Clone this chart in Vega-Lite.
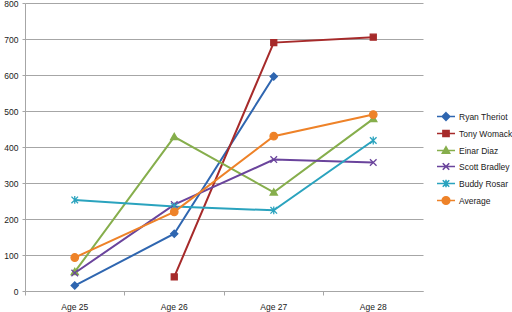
{
  "$schema": "https://vega.github.io/schema/vega-lite/v6.json",
  "width": 398,
  "height": 288,
  "autosize": {"type": "none"},
  "padding": {"left": 25, "top": 3, "right": 89, "bottom": 21},
  "background": "white",
  "config": {
    "view": {"stroke": null},
    "font": "Liberation Sans Narrow, Liberation Sans",
    "axis": {"labelFont": "Liberation Sans Narrow, Liberation Sans", "labelFontSize": 8.5, "labelColor": "#1a1a1a", "domainColor": "#a6a6a6", "tickColor": "#a6a6a6", "gridColor": "#a6a6a6", "tickSize": 3, "title": null}
  },
  "data": {"values": [
    {"series": "Ryan Theriot", "age": "Age 25", "value": 15},
    {"series": "Ryan Theriot", "age": "Age 26", "value": 159},
    {"series": "Ryan Theriot", "age": "Age 27", "value": 596},
    {"series": "Tony Womack", "age": "Age 26", "value": 39},
    {"series": "Tony Womack", "age": "Age 27", "value": 690},
    {"series": "Tony Womack", "age": "Age 28", "value": 705},
    {"series": "Einar Diaz", "age": "Age 25", "value": 53},
    {"series": "Einar Diaz", "age": "Age 26", "value": 428},
    {"series": "Einar Diaz", "age": "Age 27", "value": 274},
    {"series": "Einar Diaz", "age": "Age 28", "value": 478},
    {"series": "Scott Bradley", "age": "Age 25", "value": 50},
    {"series": "Scott Bradley", "age": "Age 26", "value": 240},
    {"series": "Scott Bradley", "age": "Age 27", "value": 365},
    {"series": "Scott Bradley", "age": "Age 28", "value": 357},
    {"series": "Buddy Rosar", "age": "Age 25", "value": 253},
    {"series": "Buddy Rosar", "age": "Age 26", "value": 235},
    {"series": "Buddy Rosar", "age": "Age 27", "value": 224},
    {"series": "Buddy Rosar", "age": "Age 28", "value": 418},
    {"series": "Average", "age": "Age 25", "value": 93},
    {"series": "Average", "age": "Age 26", "value": 220},
    {"series": "Average", "age": "Age 27", "value": 430},
    {"series": "Average", "age": "Age 28", "value": 490}
  ]},
  "encoding": {
    "x": {"field": "age", "type": "nominal", "bandPosition": 0.5,
      "scale": {"type": "band", "paddingInner": 0, "paddingOuter": 0},
      "axis": {"labelAngle": 0, "bandPosition": 0, "labelPadding": 7, "tickSize": 4, "domainColor": "#a6a6a6"}},
    "y": {"field": "value", "type": "quantitative",
      "scale": {"domain": [0, 800], "nice": false},
      "axis": {"values": [0, 100, 200, 300, 400, 500, 600, 700, 800], "labelPadding": 4, "labelFlush": false, "domain": true}}
  },
  "layer": [
    {
      "mark": {"type": "line", "strokeWidth": 2},
      "encoding": {
        "color": {"field": "series", "type": "nominal",
          "scale": {"domain": ["Ryan Theriot", "Tony Womack", "Einar Diaz", "Scott Bradley", "Buddy Rosar", "Average"],
                    "range": ["#2F66B0", "#A62A2A", "#86AE4C", "#6A449C", "#2AA3BE", "#EE8228"]},
          "legend": {"orient": "none", "legendX": 411, "legendY": 103.5, "title": null, "padding": 0,
            "symbolSize": 324, "symbolStrokeWidth": 2, "labelOffset": 3, "rowPadding": -1.8,
            "labelFont": "Liberation Sans Narrow, Liberation Sans", "labelFontSize": 8.5, "labelColor": "#1a1a1a",
            "encode": {"symbols": {"update": {
              "stroke": {"scale": "color", "field": "value"},
              "fill": {"scale": "color", "field": "value"},
              "shape": {"signal": "datum.value=='Ryan Theriot'?'M-1,0L1,0M0,-0.42L0.42,0L0,0.42L-0.42,0Z':datum.value=='Tony Womack'?'M-1,0L1,0M-0.34,-0.34L0.34,-0.34L0.34,0.34L-0.34,0.34Z':datum.value=='Einar Diaz'?'M-1,0L1,0M0,-0.4L0.4,0.3L-0.4,0.3Z':datum.value=='Scott Bradley'?'M-1,0L1,0M-0.36,-0.36L0.36,0.36M-0.36,0.36L0.36,-0.36':datum.value=='Buddy Rosar'?'M-1,0L1,0M-0.36,-0.36L0.36,0.36M-0.36,0.36L0.36,-0.36M0,-0.42L0,0.42':'M-1,0L1,0M0.42,0A0.42,0.42,0,1,1,-0.42,0A0.42,0.42,0,1,1,0.42,0Z'"},
              "strokeWidth": {"value": 1.6}
            }}}
          }},
        "detail": {"field": "series"}
      }
    },
    {"transform": [{"filter": "datum.series == 'Ryan Theriot'"}],
     "mark": {"type": "point", "filled": true, "opacity": 1, "size": 36, "strokeWidth": 1.3, "color": "#2F66B0", "stroke": "#2F66B0", "shape": "M0,-1.2L1.2,0L0,1.2L-1.2,0Z"}},
    {"transform": [{"filter": "datum.series == 'Tony Womack'"}],
     "mark": {"type": "point", "filled": true, "opacity": 1, "size": 36, "strokeWidth": 1.3, "color": "#A62A2A", "stroke": "#A62A2A", "shape": "M-1,-1L1,-1L1,1L-1,1Z"}},
    {"transform": [{"filter": "datum.series == 'Einar Diaz'"}],
     "mark": {"type": "point", "filled": true, "opacity": 1, "size": 36, "strokeWidth": 1.3, "color": "#86AE4C", "stroke": "#86AE4C", "shape": "M0,-1.2L1.2,0.9L-1.2,0.9Z"}},
    {"transform": [{"filter": "datum.series == 'Scott Bradley'"}],
     "mark": {"type": "point", "filled": true, "opacity": 1, "size": 36, "strokeWidth": 1.3, "color": "#6A449C", "stroke": "#6A449C", "shape": "M-1.1,-1.1L1.1,1.1M-1.1,1.1L1.1,-1.1"}},
    {"transform": [{"filter": "datum.series == 'Buddy Rosar'"}],
     "mark": {"type": "point", "filled": true, "opacity": 1, "size": 36, "strokeWidth": 1.3, "color": "#2AA3BE", "stroke": "#2AA3BE", "shape": "M-1.1,-1.1L1.1,1.1M-1.1,1.1L1.1,-1.1M0,-1.3L0,1.3"}},
    {"transform": [{"filter": "datum.series == 'Average'"}],
     "mark": {"type": "point", "filled": true, "opacity": 1, "size": 36, "strokeWidth": 1.3, "color": "#EE8228", "stroke": "#EE8228", "shape": "M1.25,0A1.25,1.25,0,1,1,-1.25,0A1.25,1.25,0,1,1,1.25,0Z"}}
  ]
}
